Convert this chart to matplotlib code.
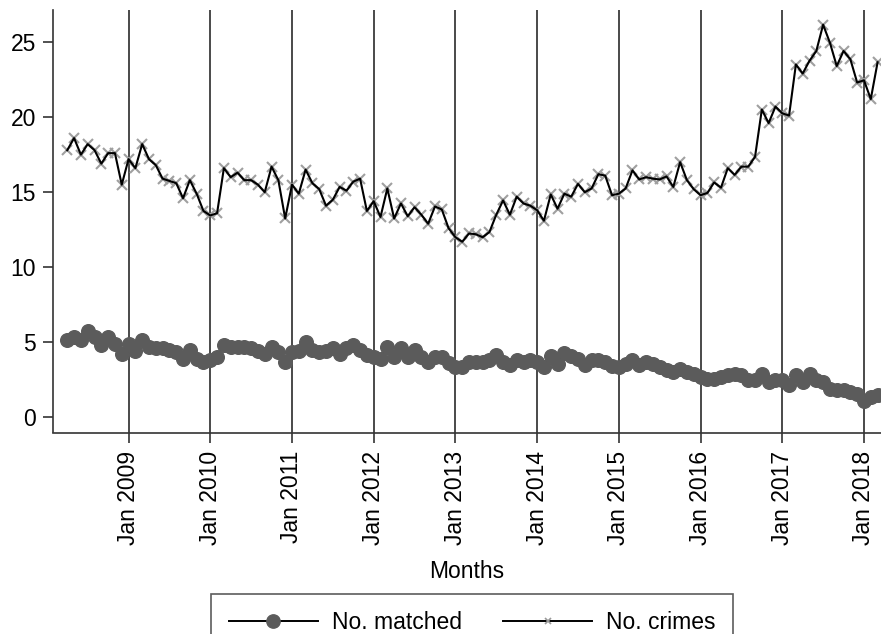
import numpy as np
import matplotlib
matplotlib.use("Agg")
import matplotlib.pyplot as plt
from matplotlib.lines import Line2D

plt.rcParams['font.family'] = ['Liberation Sans', 'DejaVu Sans']

# Monthly series, April 2008 to March 2018 (month 0 = Apr 2008)
start_year, start_month = 2008, 4
n_matched = [
    5.13, 5.35, 5.13, 5.73, 5.35, 4.84, 5.35, 4.90, 4.25, 4.90,
    4.40, 5.13, 4.70, 4.60, 4.60, 4.50, 4.35, 3.90, 4.47, 3.90,
    3.70, 3.80, 4.00, 4.85, 4.70, 4.70, 4.70, 4.60, 4.40, 4.20,
    4.70, 4.35, 3.70, 4.35, 4.40, 5.00, 4.50, 4.35, 4.40, 4.60,
    4.25, 4.60, 4.80, 4.50, 4.13, 4.00, 3.90, 4.70, 4.00, 4.60,
    4.00, 4.50, 4.00, 3.70, 4.00, 4.00, 3.63, 3.35, 3.35, 3.70,
    3.70, 3.70, 3.85, 4.13, 3.70, 3.47, 3.85, 3.70, 3.85, 3.70,
    3.35, 4.07, 3.58, 4.29, 4.07, 3.90, 3.47, 3.85, 3.80, 3.70,
    3.40, 3.35, 3.58, 3.85, 3.47, 3.70, 3.58, 3.35, 3.13, 3.00,
    3.25, 3.00, 2.90, 2.70, 2.58, 2.58, 2.70, 2.80, 2.90, 2.80,
    2.47, 2.50, 2.90, 2.35, 2.50, 2.47, 2.13, 2.80, 2.35, 2.90,
    2.47, 2.35, 1.90, 1.85, 1.80, 1.70, 1.58, 1.13, 1.35, 1.47,
]
n_crimes = [
    17.80, 18.60, 17.50, 18.20, 17.80, 16.90, 17.60, 17.60, 15.50, 17.20,
    16.60, 18.20, 17.20, 16.80, 15.90, 15.75, 15.60, 14.60, 15.80, 14.90,
    13.75, 13.45, 13.60, 16.60, 16.00, 16.30, 15.80, 15.80, 15.50, 15.00,
    16.70, 15.80, 13.25, 15.50, 14.90, 16.50, 15.60, 15.20, 14.10, 14.50,
    15.35, 15.10, 15.70, 15.90, 13.75, 14.40, 13.35, 15.25, 13.25, 14.25,
    13.40, 14.00, 13.50, 12.90, 14.05, 13.85, 12.60, 12.00, 11.70, 12.25,
    12.20, 12.00, 12.35, 13.50, 14.45, 13.50, 14.70, 14.25, 14.10, 13.80,
    13.10, 14.85, 13.90, 14.90, 14.70, 15.55, 15.00, 15.25, 16.20, 16.10,
    14.80, 14.90, 15.25, 16.45, 15.85, 16.00, 15.90, 15.85, 16.05, 15.35,
    17.00, 15.80, 15.20, 14.80, 14.95, 15.65, 15.30, 16.60, 16.15, 16.70,
    16.70, 17.35, 20.50, 19.60, 20.70, 20.25, 20.10, 23.50, 22.90, 23.75,
    24.40, 26.15, 24.95, 23.40, 24.40, 23.85, 22.30, 22.45, 21.20, 23.65,
]
tick_years = list(range(2009, 2019))
tick_labels = [f"Jan {y}" for y in tick_years]
y_ticks = [0, 5, 10, 15, 20, 25]

months = np.arange(len(n_crimes))
tick_pos = [(y - start_year) * 12 + (1 - start_month) for y in tick_years]

fig = plt.figure(figsize=(8.81, 6.34), dpi=100)
ax = fig.add_axes([52.7 / 881, 1 - 432.5 / 634, 1 - 52.7 / 881, (432.5 - 10) / 634])

for xp in tick_pos:
    ax.axvline(xp, color='#333333', lw=1.25, zorder=1)

ax.plot(months, n_matched, color='black', lw=1.4, marker='o', ms=9.8,
        mfc='#5b5b5b', mec='#5b5b5b', zorder=3)
ax.plot(months, n_crimes, color='none', marker='x', ms=6.5, mew=1.5,
        mec='#a0a0a0', zorder=2, ls='none')
ax.plot(months, n_crimes, color='black', lw=1.5, zorder=2.5)

ax.set_xlim(-2.14, 119.5)
ax.set_ylim(-1.0, 27.13)
ax.set_xticks(tick_pos)
ax.set_xticklabels(tick_labels, rotation=90)
ax.set_yticks(y_ticks)
ax.tick_params(axis='both', labelsize=16.5, length=7, width=1.2, color='#333333')
ax.tick_params(axis='x', pad=6)
ax.tick_params(axis='y', pad=5)
for side in ('top', 'right'):
    ax.spines[side].set_visible(False)
for side in ('left', 'bottom'):
    ax.spines[side].set_color('#333333')
    ax.spines[side].set_linewidth(1.2)
ax.set_xlabel('Months', fontsize=16.5, labelpad=11)

handles = [
    Line2D([], [], color='black', lw=1.4, marker='o', ms=9.6,
           mfc='#5b5b5b', mec='#5b5b5b'),
    Line2D([], [], color='black', lw=1.4, marker='x', ms=4.5, mew=1.2,
           mec='#999999'),
]
leg = fig.legend(handles, ['No. matched', 'No. crimes'], loc='upper center',
                 bbox_to_anchor=(472 / 881, 1 - 594 / 634), ncol=2,
                 fontsize=16.5, frameon=True, fancybox=False, handlelength=3.9,
                 handletextpad=0.6, columnspacing=1.8, borderpad=0.75,
                 borderaxespad=0.0)
leg.get_frame().set_edgecolor('#333333')
leg.get_frame().set_linewidth(1.2)

fig.savefig('out.png', dpi=100)
